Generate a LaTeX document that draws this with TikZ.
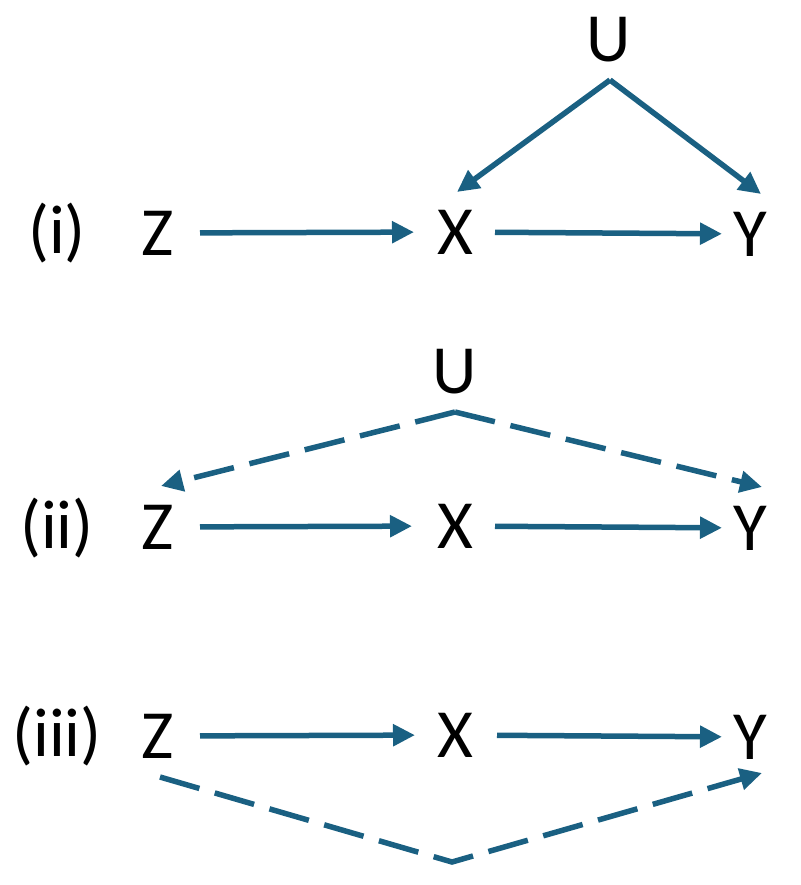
\documentclass[tikz,border=0pt]{standalone}
\usepackage{fontspec}
\setmainfont{Carlito}
\usetikzlibrary{arrows.meta}
\definecolor{arrowblue}{RGB}{26,96,130}
\begin{document}
\begin{tikzpicture}[x=1pt,y=-1pt,
  lbl/.style={inner sep=0pt,outer sep=0pt,font=\fontsize{69}{72}\selectfont,text=black},
  edge/.style={draw=arrowblue,line width=5.5pt,-{Triangle[length=22pt,width=21pt]}},
  dashedge/.style={edge,dash pattern=on 41pt off 16pt}]
\useasboundingbox (0,0) rectangle (800,885);
% (i)
\node[lbl] (L1) at (57,233) {(i)};
\node[lbl] (Z1) at (158,233) {Z};
\node[lbl] (X1) at (455,232) {X};
\node[lbl] (Y1) at (750,234) {Y};
\node[lbl] (U1) at (609,40) {U};
\coordinate (A1) at (610,80);
\coordinate (T1x) at (457,192);
\coordinate (T1y) at (761,194);
\draw[edge,shorten <=42pt,shorten >=41pt] (Z1.center) -- (X1.center);
\draw[edge,shorten <=40pt,shorten >=28pt] (X1.center) -- (Y1.center);
\draw[edge] (A1) -- (T1x);
\draw[edge] (A1) -- (T1y);
% (ii)
\node[lbl] (L2) at (57,528) {(ii)};
\node[lbl] (Z2) at (158,527) {Z};
\node[lbl] (X2) at (455,526) {X};
\node[lbl] (Y2) at (750,528) {Y};
\node[lbl] (U2) at (455,372) {U};
\coordinate (A2) at (455,412);
\coordinate (T2z) at (161,486);
\coordinate (T2y) at (762,487);
\draw[edge,shorten <=42pt,shorten >=43pt] (Z2.center) -- (X2.center);
\draw[edge,shorten <=40pt,shorten >=28pt] (X2.center) -- (Y2.center);
\draw[dashedge] (A2) -- (T2z);
\draw[dashedge] (A2) -- (T2y);
% (iii)
\node[lbl] (L3) at (57,736) {(iii)};
\node[lbl] (Z3) at (158,736) {Z};
\node[lbl] (X3) at (455,735) {X};
\node[lbl] (Y3) at (750,737) {Y};
\coordinate (S3) at (160,777);
\coordinate (A3) at (452,862);
\coordinate (T3) at (762,773);
\draw[edge,shorten <=42pt,shorten >=40pt] (Z3.center) -- (X3.center);
\draw[edge,shorten <=42pt,shorten >=28pt] (X3.center) -- (Y3.center);
\draw[dashedge] (S3) -- (A3) -- (T3);
\end{tikzpicture}
\end{document}
